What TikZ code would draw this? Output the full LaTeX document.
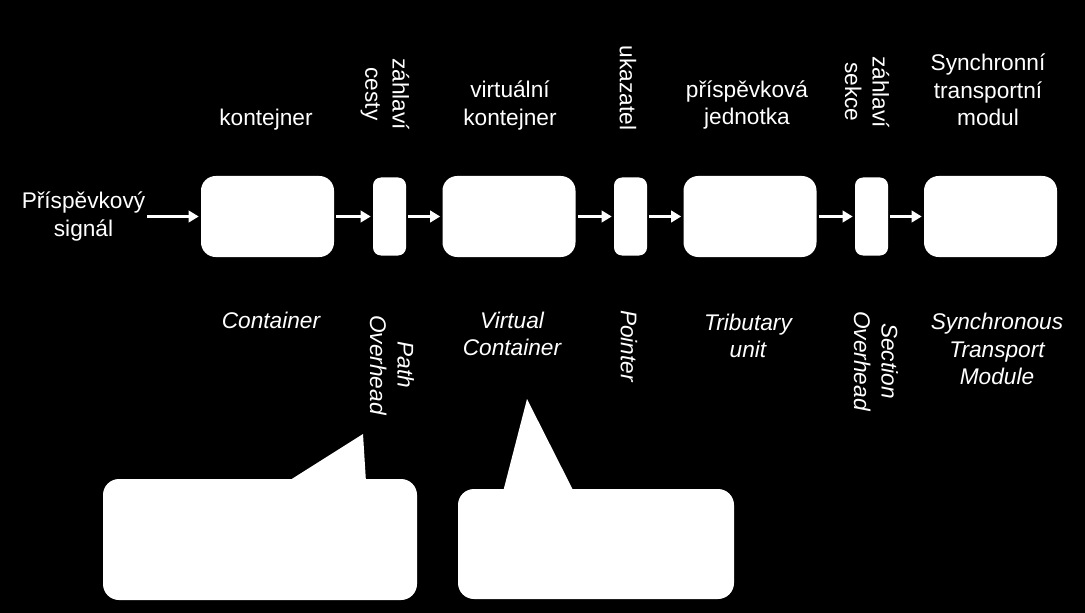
\documentclass[tikz,border=0pt]{standalone}
\usepackage{fontspec}
\setmainfont{Liberation Sans}
\usetikzlibrary{arrows.meta}
\begin{document}
\begin{tikzpicture}[x=0.75pt,y=-0.75pt,
  lbl/.style={text=white,align=center,inner sep=0pt,font=\fontsize{17}{20.6}\selectfont},
  ilbl/.style={lbl,font=\fontsize{17}{20.6}\selectfont\itshape},
  bigbox/.style={fill=white,rounded corners=11pt,minimum width=99.75pt,minimum height=60.75pt,inner sep=0pt},
  smallbox/.style={fill=white,rounded corners=6pt,minimum width=24.75pt,minimum height=58.5pt,inner sep=0pt},
  flow/.style={draw=white,line width=2.2pt,-{Triangle[length=7.5pt,width=8.5pt]},shorten <=1.5pt,shorten >=1.5pt},
  bubble/.style={fill=white,rounded corners=12pt,inner sep=0pt}]
\fill[black] (0,0) rectangle (1085,613);
\useasboundingbox (0,0) rectangle (1085,613);

% boxes
\node[bigbox]   (c)   at (267.5,216.5) {};
\node[smallbox] (po)  at (389.5,216.5) {};
\node[bigbox]   (vc)  at (509,216.5) {};
\node[smallbox] (p)   at (630.5,216.5) {};
\node[bigbox]   (tu)  at (750,216.5) {};
\node[smallbox] (so)  at (871.5,216.5) {};
\node[bigbox]   (stm) at (990.5,216.5) {};

% input label
\node[lbl] (sig) at (83.5,216.5) {Příspěvkový\\signál};

% arrows
\draw[flow] (sig.east) -- (c.west);
\draw[flow] (c) -- (po);
\draw[flow] (po) -- (vc);
\draw[flow] (vc) -- (p);
\draw[flow] (p) -- (tu);
\draw[flow] (tu) -- (so);
\draw[flow] (so) -- (stm);

% top labels
\node[lbl] (t1) at (266,120) {kontejner};
\node[lbl,rotate=-90] (t2) at (385,94) {záhlaví\\cesty};
\node[lbl] (t3) at (510,105.5) {virtuální\\kontejner};
\node[lbl,rotate=-90] (t4) at (628,88) {ukazatel};
\node[lbl] (t5) at (747,105) {příspěvková\\jednotka};
\node[lbl,rotate=-90] (t6) at (867,92) {záhlaví\\sekce};
\node[lbl] (t7) at (988,90) {Synchronní\\transportní\\modul};

% bottom labels
\node[ilbl] (b1) at (271,320) {Container};
\node[ilbl,rotate=-90] (b2) at (392,365) {Path\\Overhead};
\node[ilbl] (b3) at (512,334) {Virtual\\Container};
\node[ilbl,rotate=-90] (b4) at (629,346) {Pointer};
\node[ilbl] (b5) at (748,336) {Tributary\\unit};
\node[ilbl,rotate=-90] (b6) at (876,361) {Section\\Overhead};
\node[ilbl] (b7) at (997,349) {Synchronous\\Transport\\Module};

% callouts
\node[bubble,minimum width=235.5pt,minimum height=90.75pt] (co1) at (260,539.5) {};
\fill[white] (287,482) -- (363,434) -- (366,482) -- cycle;
\node[bubble,minimum width=207pt,minimum height=82.5pt] (co2) at (596,544) {};
\fill[white] (503,492) -- (527,399) -- (574,492) -- cycle;
\end{tikzpicture}
\end{document}
